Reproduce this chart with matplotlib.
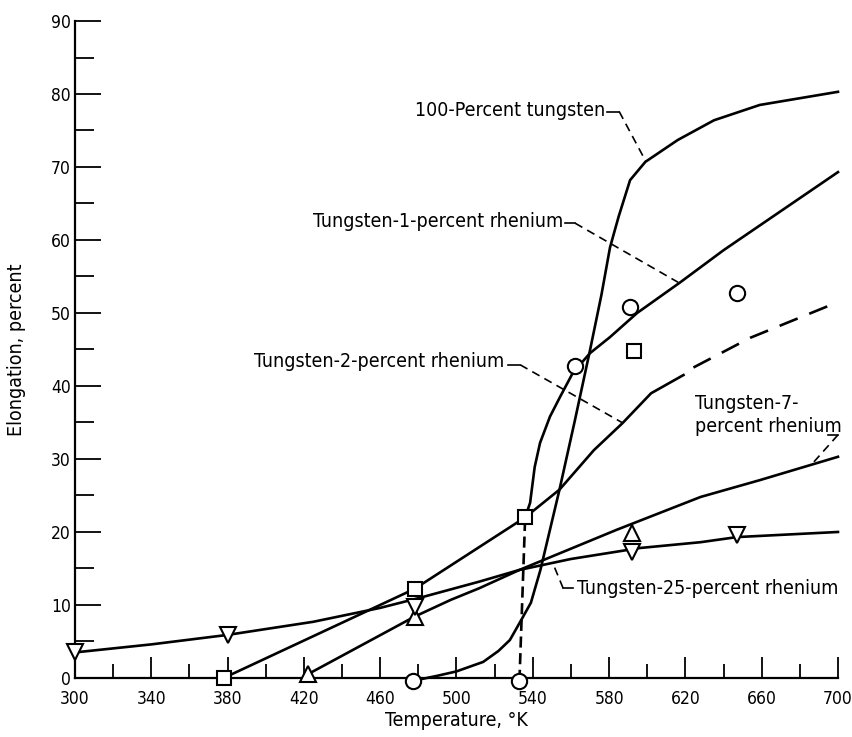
import matplotlib.pyplot as plt
import numpy as np

plt.rcParams['font.family'] = ['DejaVu Sans']
plt.rcParams['font.stretch'] = 'condensed'
plt.rcParams['lines.scale_dashes'] = False

# --- curves (temperature in K, elongation in percent) ---
w100_T = [477, 490, 500, 514, 522, 528, 533, 539, 544, 554, 562, 570, 576, 580.5, 585, 591, 599, 616, 635, 659, 700]
w100_E = [-0.4, 0.3, 0.9, 2.2, 3.7, 5.2, 7.5, 10.3, 14.8, 25.8, 35.2, 44.9, 52.5, 59, 63.2, 68.2, 70.7, 73.7, 76.4, 78.5, 80.3]

re1_dash_T = [533, 536]
re1_dash_E = [-0.4, 22]
re1_T = [536, 538.6, 541, 543.8, 549, 554.3, 561, 570, 580.5, 594.7, 617.3, 640, 700]
re1_E = [22, 24, 28.9, 32.2, 35.8, 38.5, 41.8, 44.5, 46.7, 50, 54.2, 58.6, 69.3]

re2_T = [378, 478, 536, 554, 572, 587, 602, 619]
re2_E = [0, 12.2, 22, 25.8, 31.2, 34.9, 39, 41.5]
re2_dash_T = [619, 624, 654, 700]
re2_dash_E = [41.5, 42.5, 46.6, 51.5]

re7_T = [422, 478, 497, 512, 533, 584, 628, 659, 700]
re7_E = [0.5, 8.4, 10.7, 12.3, 14.8, 20.3, 24.8, 27.1, 30.3]

re25_T = [300, 340, 380, 425, 460, 481, 512, 533, 560, 596, 628, 647, 700]
re25_E = [3.5, 4.6, 5.9, 7.7, 9.6, 11, 13.2, 14.8, 16.3, 17.8, 18.6, 19.3, 20]

# --- data points ---
circ_T = [477, 533, 562, 591, 647]
circ_E = [-0.4, -0.4, 42.7, 50.8, 52.7]
sq_T = [378, 478, 536, 593]
sq_E = [0, 12.2, 22, 44.8]
up_T = [422, 478, 592]
up_E = [0.6, 8.4, 19.9]
down_T = [300, 380, 478, 592, 647]
down_E = [3.6, 5.9, 9.7, 17.3, 19.6]

x_ticks = np.arange(300, 701, 40)
y_ticks = np.arange(0, 91, 10)

# curve labels: text, anchor (left, centre), leader path
labels = [
    ("100-Percent tungsten", (478, 77.8), [(579, 77.6), (585.3, 77.6), (599.4, 70.7)]),
    ("Tungsten-1-percent rhenium", (424.8, 62.6), [(557, 62.3), (562.2, 62.3), (616.2, 54.2)]),
    ("Tungsten-2-percent rhenium", (394, 43.4), [(527, 42.9), (533.4, 42.9), (587.4, 34.9)]),
    ("Tungsten-7-\npercent rhenium", (625, 36.0), [(695, 33.3), (700, 33.3), (686, 29.2)]),
    ("Tungsten-25-percent rhenium", (563.2, 12.3), [(561.1, 12.3), (555.9, 12.3), (550.7, 15.6)]),
]

fig = plt.figure(figsize=(8.53, 7.37), dpi=100)
ax = fig.add_axes([0.0879, 0.0801, 0.8945, 0.8914])

lw = 1.9
ax.plot(w100_T, w100_E, color='black', lw=lw, clip_on=False)
ax.plot(re1_T, re1_E, color='black', lw=lw, clip_on=False)
ax.plot(re1_dash_T, re1_dash_E, color='black', lw=lw, ls=(0, (8, 4)), clip_on=False)
ax.plot(re2_T, re2_E, color='black', lw=lw, clip_on=False)
ax.plot(re2_dash_T, re2_dash_E, color='black', lw=lw, ls=(14, (14, 9)), clip_on=False)
ax.plot(re7_T, re7_E, color='black', lw=lw, clip_on=False)
ax.plot(re25_T, re25_E, color='black', lw=lw, clip_on=False)

mk = dict(ls='none', mfc='white', mec='black', mew=1.5, zorder=5, clip_on=False)
ax.plot(circ_T, circ_E, marker='o', ms=11, **mk)
ax.plot(sq_T, sq_E, marker='s', ms=10.5, **mk)
ax.plot(up_T, up_E, marker='^', ms=11, **mk)
ax.plot(down_T, down_E, marker='v', ms=11, **mk)

for text, (tx, ty), path in labels:
    ax.text(tx, ty, text, ha='left', va='center', fontsize=14, linespacing=1.3)
    px = [p[0] for p in path]
    py = [p[1] for p in path]
    ax.plot(px[:2], py[:2], color='black', lw=1.2, clip_on=False)
    ax.plot(px[1:], py[1:], color='black', lw=1.2, ls=(0, (6, 4)), clip_on=False)

ax.set_xlim(300, 700)
ax.set_ylim(0, 90)
ax.set_xticks(x_ticks)
ax.set_xticks(np.arange(320, 700, 40), minor=True)
ax.set_yticks(y_ticks)
ax.set_yticks(np.arange(5, 90, 10), minor=True)
ax.tick_params(axis='x', which='major', direction='in', length=15, width=1.3, pad=9, labelsize=12.5)
ax.tick_params(axis='x', which='minor', direction='in', length=10, width=1.3)
ax.tick_params(axis='y', which='major', direction='in', length=19, width=1.3, pad=3, labelsize=12.5)
ax.tick_params(axis='y', which='minor', direction='in', length=14, width=1.3)

for s in ['top', 'right']:
    ax.spines[s].set_visible(False)
for s in ['left', 'bottom']:
    ax.spines[s].set_linewidth(1.6)

ax.set_xlabel('Temperature, °K', fontsize=14)
ax.set_ylabel('Elongation, percent', fontsize=14)
ax.xaxis.set_label_coords(0.5, -0.05)
ax.yaxis.set_label_coords(-0.064, 0.5)

fig.savefig('out.png', dpi=100)
